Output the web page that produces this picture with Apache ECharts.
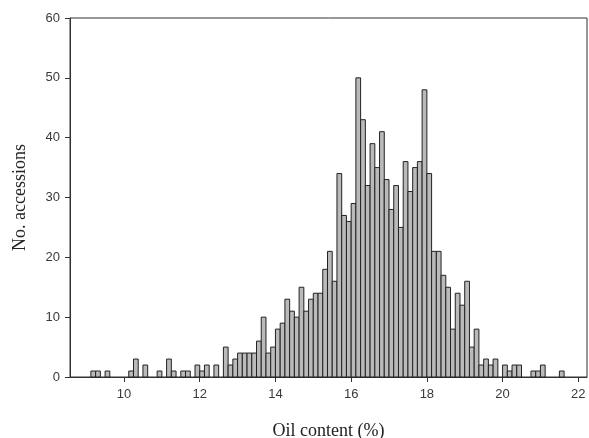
<!DOCTYPE html>
<html>
<head>
<meta charset="utf-8">
<script src="https://cdn.jsdelivr.net/npm/echarts@6/dist/echarts.min.js"></script>
<style>
  html, body { margin: 0; background: #fff; }
  #chart { width: 589px; height: 438px; }
</style>
</head>
<body>
<div id="chart"></div>
<script>
// histogram bins: lower edge of first bin and bin width (oil content, %)
const binStart = 9.125;
const binWidth = 0.125;
// number of accessions in each bin
const counts = [
  1, 1, 0, 1, 0, 0, 0, 0,          // 9.125 - 10.0
  1, 3, 0, 2, 0, 0, 1, 0,          // 10.125 - 11.0
  3, 1, 0, 1, 1, 0, 2, 1,          // 11.125 - 12.0
  2, 0, 2, 0, 5, 2, 3, 4,          // 12.125 - 13.0
  4, 4, 4, 6, 10, 4, 5, 8,         // 13.125 - 14.0
  9, 13, 11, 10, 15, 11, 13, 14,   // 14.125 - 15.0
  14, 18, 21, 16, 34, 27, 26, 29,  // 15.125 - 16.0
  50, 43, 32, 39, 35, 41, 33, 28,  // 16.125 - 17.0
  32, 25, 36, 31, 35, 36, 48, 34,  // 17.125 - 18.0
  21, 21, 17, 15, 8, 14, 12, 16,   // 18.125 - 19.0
  5, 8, 2, 3, 2, 3, 0, 2,          // 19.125 - 20.0
  1, 2, 2, 0, 0, 1, 1, 2,          // 20.125 - 21.0
  0, 0, 0, 1                       // 21.125 - 21.5
];
const xTicks = [10, 12, 14, 16, 18, 20, 22];

const bars = [];
counts.forEach((c, i) => {
  const lo = binStart + i * binWidth;
  if (c > 0) bars.push([lo, lo + binWidth, c]);
});

const chart = echarts.init(document.getElementById('chart'));

chart.setOption({
  animation: false,
  backgroundColor: '#fff',
  grid: {
    left: 70, right: 2, top: 18, bottom: 61,
    outerBoundsMode: 'none',
    show: true, borderColor: '#333', borderWidth: 1
  },
  xAxis: {
    type: 'value',
    min: 8.573,
    max: 22.23,
    name: 'Oil content (%)',
    nameLocation: 'middle',
    nameGap: 45,
    nameTextStyle: { fontFamily: 'Liberation Serif', fontSize: 18, color: '#222' },
    axisLine: { show: true, lineStyle: { color: '#333', width: 1 } },
    axisTick: { show: true, customValues: xTicks, length: 5, lineStyle: { color: '#333' } },
    axisLabel: { customValues: xTicks, fontFamily: 'Liberation Sans', fontSize: 13, color: '#3a3a3a', margin: 11 },
    splitLine: { show: false }
  },
  yAxis: {
    type: 'value',
    min: 0,
    max: 60,
    interval: 10,
    name: 'No. accessions',
    nameLocation: 'middle',
    nameGap: 41,
    nameTextStyle: { fontFamily: 'Liberation Serif', fontSize: 18, color: '#222' },
    axisLine: { show: true, lineStyle: { color: '#333', width: 1 } },
    axisTick: { show: true, length: 5, lineStyle: { color: '#333' } },
    axisLabel: { fontFamily: 'Liberation Sans', fontSize: 13, color: '#3a3a3a', margin: 10 },
    splitLine: { show: false }
  },
  series: [{
    type: 'custom',
    data: bars,
    encode: { x: [0, 1], y: 2 },
    renderItem: function (params, api) {
      const top = api.coord([api.value(0), api.value(2)]);
      const bottom = api.coord([api.value(1), 0]);
      return {
        type: 'rect',
        shape: {
          x: top[0], y: top[1],
          width: bottom[0] - top[0], height: bottom[1] - top[1]
        },
        style: { fill: '#bababa', stroke: '#222', lineWidth: 1 }
      };
    }
  }]
});
</script>
</body>
</html>
